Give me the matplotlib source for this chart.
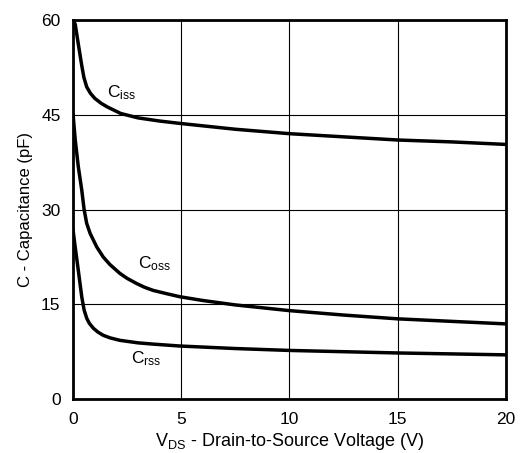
import matplotlib
matplotlib.use('Agg')
import matplotlib.pyplot as plt

plt.rcParams['font.family'] = ['Liberation Sans', 'DejaVu Sans']
plt.rcParams['mathtext.fontset'] = 'custom'
plt.rcParams['mathtext.rm'] = 'Liberation Sans'
plt.rcParams['mathtext.it'] = 'Liberation Sans'

# values
v_iss = [0, 0.1, 0.25, 0.4, 0.5, 0.63, 0.8, 1.0, 1.3, 1.6, 2.2, 3, 4, 5, 7.5, 10, 12.5, 15, 17.5, 20]
c_iss = [60, 59.3, 56, 52.8, 50.9, 49.4, 48.4, 47.6, 46.8, 46.2, 45.2, 44.5, 44.0, 43.6, 42.7, 42.0, 41.5, 41.0, 40.7, 40.3]

v_oss = [0, 0.1, 0.24, 0.4, 0.51, 0.63, 0.79, 1.09, 1.39, 1.7, 2.16, 2.5, 2.93, 3.3, 3.7, 4.3, 4.93, 6, 7.5, 10, 12.5, 15, 17.5, 20]
c_oss = [45, 41, 36.8, 33.1, 30.0, 27.8, 26.2, 24.1, 22.5, 21.3, 19.9, 19.1, 18.3, 17.7, 17.2, 16.7, 16.2, 15.6, 14.9, 14.0, 13.3, 12.7, 12.3, 11.9]

v_rss = [0, 0.1, 0.24, 0.4, 0.51, 0.63, 0.75, 0.94, 1.15, 1.39, 1.7, 2.16, 3, 3.7, 4.93, 7.5, 10, 12.5, 15, 17.5, 20]
c_rss = [26.7, 24, 20.4, 16.2, 14.1, 12.8, 12.0, 11.2, 10.6, 10.1, 9.7, 9.3, 8.9, 8.7, 8.4, 8.0, 7.7, 7.5, 7.3, 7.15, 7.0]

xticks = [0, 5, 10, 15, 20]
yticks = [0, 15, 30, 45, 60]

fig = plt.figure(figsize=(5.22, 4.53), dpi=100)
ax = fig.add_axes([0.140, 0.119, 0.829, 0.837])

for v, c in [(v_iss, c_iss), (v_oss, c_oss), (v_rss, c_rss)]:
    ax.plot(v, c, color='black', lw=2.5, solid_joinstyle='round', zorder=3)

ax.set_xlim(0, 20)
ax.set_ylim(0, 60)
ax.set_xticks(xticks)
ax.set_yticks(yticks)
ax.tick_params(length=0, pad=9, labelsize=12.5)
ax.grid(True, color='black', lw=0.8)
for s in ax.spines.values():
    s.set_linewidth(2.0)

# curve labels
ax.text(1.59, 47.8, r'C$_{\mathrm{iss}}$', fontsize=12.5, va='baseline')
ax.text(3.0, 20.7, r'C$_{\mathrm{oss}}$', fontsize=12.5, va='baseline')
ax.text(2.7, 5.65, r'C$_{\mathrm{rss}}$', fontsize=12.5, va='baseline')

ax.set_xlabel(r'V$_{\mathrm{DS}}$ - Drain-to-Source Voltage (V)', fontsize=13, labelpad=3)
ax.set_ylabel('C - Capacitance (pF)', fontsize=12, labelpad=6)

fig.savefig('out.png', dpi=100)
